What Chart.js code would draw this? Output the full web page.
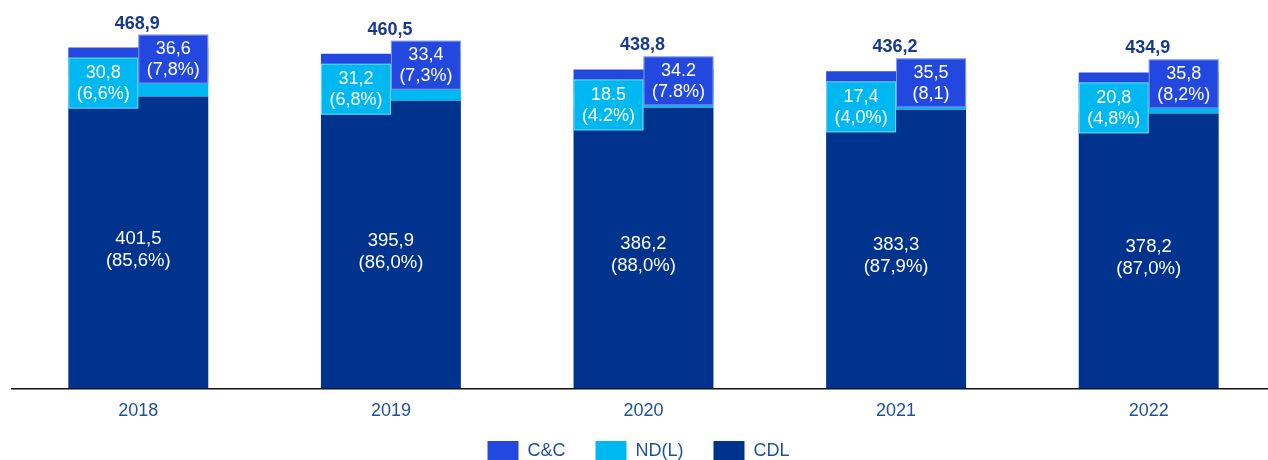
<!DOCTYPE html>
<html>
<head>
<meta charset="utf-8">
<script src="https://cdn.jsdelivr.net/npm/chart.js@4.4.0/dist/chart.umd.min.js"></script>
<style>
  html, body { margin: 0; padding: 0; background: #fff; overflow: hidden; }
  #wrap { position: relative; width: 1290px; height: 494px; }
</style>
</head>
<body>
<div id="wrap"><canvas id="chart"></canvas></div>
<script>
const years = ['2018', '2019', '2020', '2021', '2022'];
const cdl = [401.5, 395.9, 386.2, 383.3, 378.2];
const ndl = [30.8, 31.2, 18.5, 17.4, 20.8];
const cc = [36.6, 33.4, 34.2, 35.5, 35.8];
const totalLabels = ['468,9', '460,5', '438,8', '436,2', '434,9'];
const cdlLabels = [['401,5', '(85,6%)'], ['395,9', '(86,0%)'], ['386,2', '(88,0%)'], ['383,3', '(87,9%)'], ['378,2', '(87,0%)']];
const ndlLabels = [['30,8', '(6,6%)'], ['31,2', '(6,8%)'], ['18.5', '(4.2%)'], ['17,4', '(4,0%)'], ['20,8', '(4,8%)']];
const ccLabels = [['36,6', '(7,8%)'], ['33,4', '(7,3%)'], ['34.2', '(7.8%)'], ['35,5', '(8,1)'], ['35,8', '(8,2%)']];

const COL_CDL = '#00338d';
const COL_NDL = '#00b8f1';
const COL_CC = '#2348e0';
const FONT = '"Liberation Sans", Arial, sans-serif';

// overlay boxes and value labels
const labelPlugin = {
    id: 'labels',
    afterLayout(chart) {
        // pull the legend closer to the axis
        const lg = chart.legend;
        lg.top -= 23; lg.bottom -= 23;
        lg.left -= 5; lg.right -= 5;
    },
    afterDatasetsDraw(chart) {
        const ctx = chart.ctx;
        const y = chart.scales.y;
        const meta = chart.getDatasetMeta(0);
        ctx.save();
        ctx.textAlign = 'center';
        ctx.textBaseline = 'middle';
        years.forEach((yr, i) => {
            const bar = meta.data[i];
            const x = bar.x;
            const w = bar.width;
            const total = cdl[i] + ndl[i] + cc[i];
            const yTop = y.getPixelForValue(total);
            const yCdl = y.getPixelForValue(cdl[i]);
            const yBase = y.getPixelForValue(0);

            // ND(L) box on the left half
            let top = yTop + 10, bot = yTop + 61;
            ctx.fillStyle = COL_NDL;
            ctx.fillRect(x - w / 2, top, w / 2, bot - top);
            ctx.strokeStyle = 'rgba(255,255,255,0.45)';
            ctx.lineWidth = 1;
            ctx.strokeRect(x - w / 2 + 0.5, top + 0.5, w / 2 - 1, bot - top - 1);
            ctx.fillStyle = '#fff';
            ctx.font = '18px ' + FONT;
            let c = (top + bot) / 2;
            ctx.fillText(ndlLabels[i][0], x - w / 4, c - 10);
            ctx.fillText(ndlLabels[i][1], x - w / 4, c + 11);

            // C&C box on the right half
            top = yTop - 13; bot = yTop + 36;
            ctx.fillStyle = COL_CC;
            ctx.fillRect(x, top, w / 2, bot - top);
            ctx.strokeRect(x + 0.5, top + 0.5, w / 2 - 1, bot - top - 1);
            ctx.fillStyle = '#fff';
            c = (top + bot) / 2;
            ctx.fillText(ccLabels[i][0], x + w / 4, c - 10);
            ctx.fillText(ccLabels[i][1], x + w / 4, c + 11);

            // CDL label
            const mid = (yCdl + yBase) / 2;
            ctx.font = '18.5px ' + FONT;
            ctx.fillText(cdlLabels[i][0], x, mid - 4);
            ctx.fillText(cdlLabels[i][1], x, mid + 18);

            // total
            ctx.fillStyle = '#173a8c';
            ctx.font = 'bold 18px ' + FONT;
            ctx.fillText(totalLabels[i], x - 1, yTop - 24);
        });
        ctx.restore();
    }
};

new Chart(document.getElementById('chart'), {
    type: 'bar',
    data: {
        labels: years,
        datasets: [
            { label: 'CDL', data: cdl, backgroundColor: COL_CDL },
            { label: 'ND(L)', data: ndl, backgroundColor: COL_NDL },
            { label: 'C&C', data: cc, backgroundColor: COL_CC }
        ]
    },
    options: {
        responsive: true,
        maintainAspectRatio: false,
        animation: false,
        barPercentage: 0.554,
        categoryPercentage: 1,
        layout: { padding: { top: 25, left: 12, right: 15, bottom: 0 } },
        scales: {
            x: {
                stacked: true,
                grid: { display: false, drawTicks: false },
                border: { display: true, color: '#111', width: 1.5 },
                ticks: { color: '#1f4f9f', font: { family: FONT, size: 18 }, padding: 12 }
            },
            y: {
                stacked: true,
                display: false,
                min: 0,
                max: 500
            }
        },
        plugins: {
            legend: {
                position: 'bottom',
                reverse: true,
                labels: {
                    boxWidth: 31,
                    boxHeight: 20,
                    padding: 30,
                    color: '#1f4f9f',
                    font: { family: FONT, size: 18 }
                }
            },
            tooltip: { enabled: false }
        }
    },
    plugins: [labelPlugin]
});
</script>
</body>
</html>
